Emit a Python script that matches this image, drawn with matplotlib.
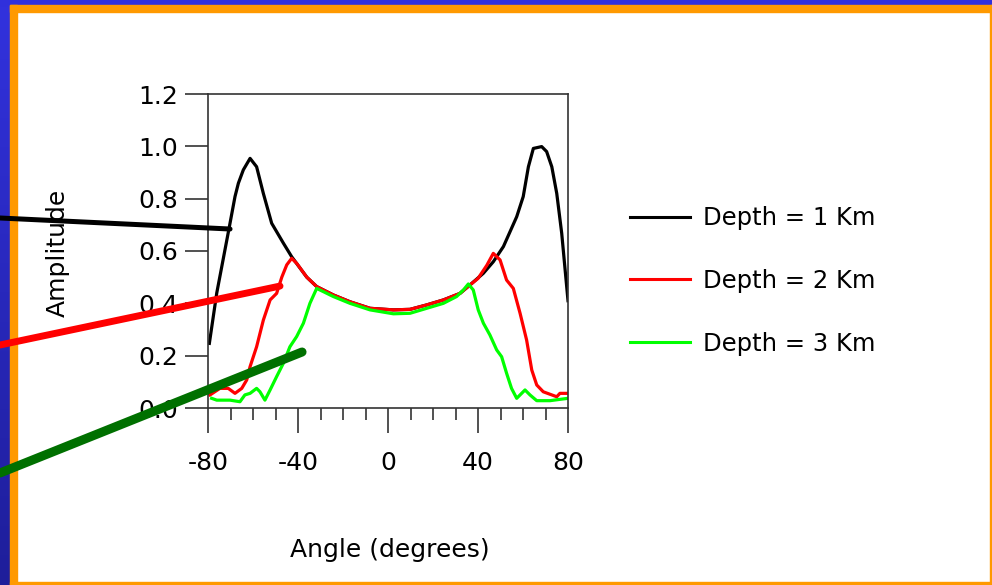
import numpy as np
import matplotlib
matplotlib.use("Agg")
import matplotlib.pyplot as plt
from matplotlib.patches import Rectangle
from matplotlib.colors import LinearSegmentedColormap

# ---------------- data ----------------
x_1km = [-79.4, -76.1, -70.5, -68, -66.5, -64.3, -61.3, -58.4, -55.4, -51.7, -46.5,
         -42.8, -36.1, -31.7, -24.3, -16.9, -8, 2.4, 9.8, 17.2, 24.6, 32, 36.4, 42.4,
         46.8, 51.3, 57.2, 60.1, 62.4, 64.6, 68.3, 70.5, 72.8, 75, 77.2, 80]
y_1km = [0.247, 0.44, 0.693, 0.808, 0.859, 0.91, 0.954, 0.922, 0.82, 0.706, 0.63,
         0.578, 0.50, 0.464, 0.432, 0.406, 0.381, 0.375, 0.377, 0.394, 0.413, 0.438, 0.47, 0.515,
         0.559, 0.617, 0.731, 0.808, 0.922, 0.992, 0.999, 0.98, 0.922, 0.82, 0.668, 0.41]

x_2km = [-79.1, -74.7, -71, -68, -65, -62.8, -61.3, -58.4, -55.4, -52.4, -49.5, -47.2,
         -45, -42.8, -40.6, -36.1, -31.7, -24.3, -16.9, -8, 2.4, 9.8, 17.2, 24.6, 32,
         36.4, 40, 43.9, 46.8, 49.8, 52.7, 55.7, 58.7, 61.6, 63.9, 66.1, 69, 72.8, 75,
         76.4, 80]
y_2km = [0.05, 0.075, 0.075, 0.056, 0.075, 0.107, 0.158, 0.234, 0.336, 0.413, 0.438, 0.50,
         0.547, 0.572, 0.553, 0.50, 0.464, 0.432, 0.406, 0.381, 0.375, 0.377, 0.394, 0.413, 0.438,
         0.47, 0.495, 0.545, 0.591, 0.566, 0.489, 0.457, 0.362, 0.26, 0.145, 0.088, 0.062, 0.05, 0.043,
         0.056, 0.056]

x_3km = [-78.4, -76.1, -70.2, -65.8, -63.6, -61.3, -58.4, -56.9, -54.7, -52.4, -49.5,
         -46.5, -43.6, -40.6, -37.6, -34.7, -31.7, -28.8, -24.3, -16.9, -8, 2.4, 9.8,
         17.2, 24.6, 30.5, 33.5, 35.7, 37.9, 40.1, 42.4, 45.3, 48.3, 50.5, 52.7, 54.9,
         57.2, 58.7, 60.9, 63.1, 66.1, 72, 76.4, 80]
y_3km = [0.037, 0.03, 0.03, 0.024, 0.05, 0.056, 0.075, 0.062, 0.03, 0.069, 0.12,
         0.171, 0.234, 0.273, 0.324, 0.40, 0.457, 0.445, 0.426, 0.40, 0.375, 0.36, 0.362,
         0.381, 0.40, 0.426, 0.451, 0.474, 0.451, 0.375, 0.324, 0.279, 0.222, 0.196, 0.133, 0.075,
         0.037, 0.05, 0.069, 0.05, 0.028, 0.028, 0.033, 0.037]

labels = ["Depth = 1 Km", "Depth = 2 Km", "Depth = 3 Km"]
colors = ["#000000", "#ff0000", "#00ff00"]
x_ticks = [-80, -40, 0, 40, 80]
y_ticks = [0.0, 0.2, 0.4, 0.6, 0.8, 1.0, 1.2]
x_label = "Angle (degrees)"
y_label = "Amplitude"
# pointer targets (data coords on curves)
pointer_targets = [(-70.2, 0.684), (-48.0, 0.466), (-38.2, 0.214)]

# ---------------- figure ----------------
W, H = 992, 585
plt.rcParams['font.family'] = ['DejaVu Sans']
fig = plt.figure(figsize=(W / 100, H / 100), dpi=100, facecolor="white")

def fx(px):
    return px / W

def fy(py):
    return 1 - py / H

# slide border
grad = fig.add_axes([0, 0, fx(10), 1], zorder=-2)
g = np.linspace(0, 1, 256).reshape(-1, 1)
cm = LinearSegmentedColormap.from_list("b", ["#3232de", "#1e1e9a"])
grad.imshow(g, aspect="auto", cmap=cm, extent=[0, 1, 0, 1], origin="upper")
grad.axis("off")
fig.patches.append(Rectangle((0, fy(5)), 1, fy(0) - fy(5), transform=fig.transFigure,
                             color="#3030dc", zorder=-1))
orange = "#ff9900"
fig.patches.append(Rectangle((fx(10), 0), fx(7), fy(5), transform=fig.transFigure, color=orange, zorder=-1))
fig.patches.append(Rectangle((fx(10), fy(12)), 1, fy(5) - fy(12), transform=fig.transFigure, color=orange, zorder=-1))
fig.patches.append(Rectangle((fx(990), 0), fx(2), fy(5), transform=fig.transFigure, color=orange, zorder=-1))
fig.patches.append(Rectangle((fx(10), 0), 1, fy(582), transform=fig.transFigure, color=orange, zorder=-1))

ax = fig.add_axes([fx(208), fy(408), fx(568) - fx(208), fy(94) - fy(408)])
ax.set_facecolor("white")

series = [(x_1km, y_1km), (x_2km, y_2km), (x_3km, y_3km)]
for (xs, ys), lab, c in zip(series, labels, colors):
    ax.plot(xs, ys, color=c, lw=2.3, label=lab, solid_joinstyle="round")

ax.set_xlim(-80, 80)
ax.set_ylim(0, 1.2)
ax.set_xticks(x_ticks)
ax.set_xticks(np.arange(-80, 81, 10), minor=True)
ax.set_yticks(y_ticks)
ax.set_xticklabels([f"{v:d}" for v in x_ticks])
ax.set_yticklabels([f"{v:.1f}" for v in y_ticks])
for sp in ax.spines.values():
    sp.set_color("#333333")
    sp.set_linewidth(1.2)
ax.tick_params(axis="x", which="major", direction="out", length=18, width=1.1,
               color="#222222", labelsize=18, pad=13)
ax.tick_params(axis="x", which="minor", direction="out", length=8.6, width=1.1, color="#222222")
ax.tick_params(axis="y", which="major", direction="out", length=16.5, width=1.1,
               color="#222222", labelsize=18, pad=5)

fig.text(fx(390), fy(550), x_label, ha="center", va="center", fontsize=18)
fig.text(fx(58), fy(253), y_label, ha="center", va="center", fontsize=18, rotation=90)

leg = ax.legend(loc="center left", bbox_to_anchor=(fx(630), fy(281)), bbox_transform=fig.transFigure,
                frameon=False, fontsize=17.5, handlelength=2.45, handletextpad=0.55,
                labelspacing=1.6, borderpad=0, borderaxespad=0)
for h in leg.get_lines():
    h.set_linewidth(2.2)

# pointer lines from slide edge to curves
pointer_starts = [fy(218), fy(345), fy(473)]
pointer_colors = ["#000000", "#ff0000", "#007000"]
pointer_widths = [3.6, 5.0, 6.5]
for (tx, ty), sy, c, w in zip(pointer_targets, pointer_starts, pointer_colors, pointer_widths):
    ax.annotate("", xy=(tx, ty), xycoords="data", xytext=(0, sy), textcoords="figure fraction",
                arrowprops=dict(arrowstyle="-", color=c, lw=w, shrinkA=0, shrinkB=0),
                annotation_clip=False, zorder=10)

fig.savefig("out.png", dpi=100, facecolor="white")
